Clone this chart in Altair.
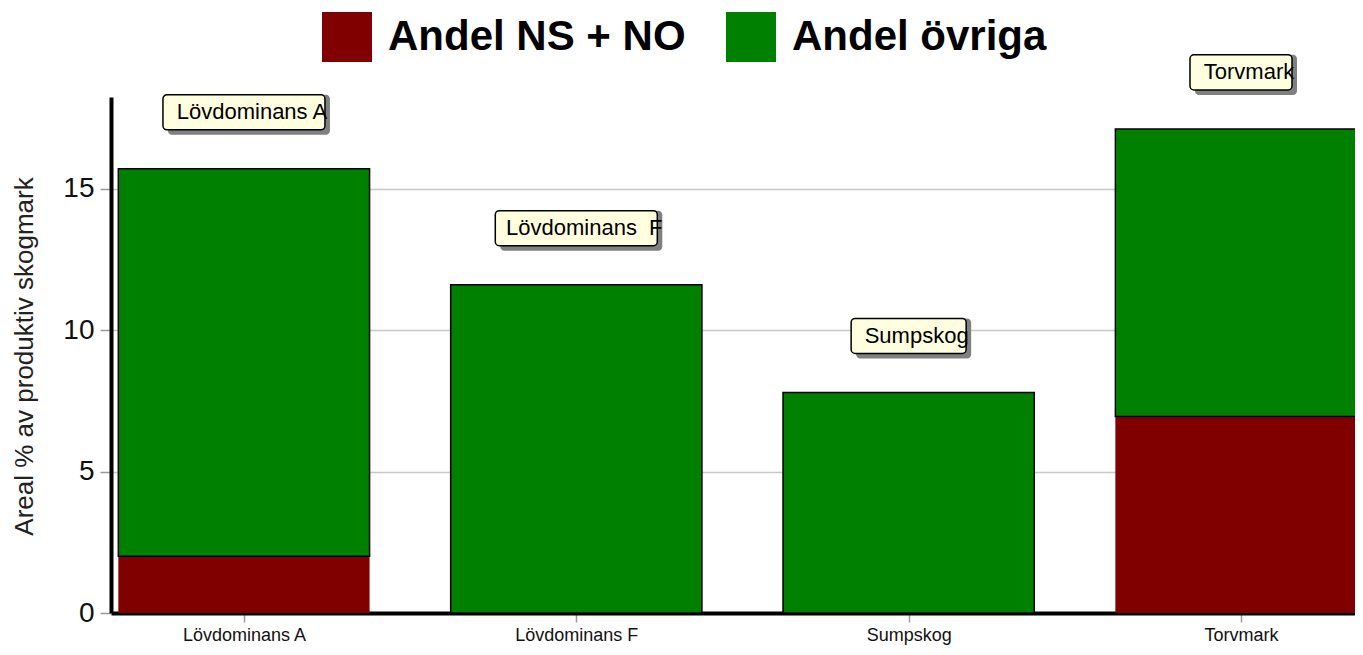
import altair as alt
import pandas as pd

# ---- data ----
categories = ["Lövdominans A", "Lövdominans F", "Sumpskog", "Torvmark"]
ns_no = [2.01, 0.0, 0.0, 6.95]          # Andel NS + NO
ovriga = [13.70, 11.61, 7.80, 10.17]    # Andel övriga
box_labels = ["Lövdominans A", "Lövdominans\u00a0 F", "Sumpskog", "Torvmark"]
series_names = ["Andel NS + NO", "Andel övriga"]
y_ticks = [0, 5, 10, 15]

# ---- styles ----
series_colors = ["#800000", "#008000"]
box_width_px = [162, 162, 115, 102]
SANS = "Liberation Sans, Arial, sans-serif"

PLOT_W, PLOT_H = 1244, 516
Y_MAX = 18.25

rows = []
for i, c in enumerate(categories):
    rows.append({"idx": i, "cat": c, "series": series_names[0], "lo": 0.0, "hi": ns_no[i]})
    rows.append({"idx": i, "cat": c, "series": series_names[1], "lo": ns_no[i],
                 "hi": ns_no[i] + ovriga[i]})
bars_df = pd.DataFrame(rows)

lab_df = pd.DataFrame({
    "idx": list(range(len(categories))),
    "label": box_labels,
    "total": [a + b for a, b in zip(ns_no, ovriga)],
    "bw": box_width_px,
})

xscale = alt.Scale(domain=[-0.385, 3.328], nice=False, zero=False)
yscale = alt.Scale(domain=[0, Y_MAX], nice=False)

cat_js = "[" + ",".join("'" + c + "'" for c in categories) + "]"

xaxis = alt.Axis(
    values=[0, 1, 2, 3], labelExpr=f"{cat_js}[datum.value]", title=None, grid=False,
    domainColor="black", domainWidth=4, tickColor="#999999", tickSize=9, tickWidth=1.5,
    labelFont=SANS, labelFontSize=18, labelColor="#111111", labelPadding=4,
    labelFlush=False, labelOverlap=False,
)
yaxis = alt.Axis(
    values=y_ticks, title="Areal % av produktiv skogmark", grid=True,
    gridColor="#c8c8c8", gridWidth=1.5, domainColor="black", domainWidth=4,
    tickColor="#999999", tickSize=11, tickWidth=1.5,
    labelFont=SANS, labelFontSize=28, labelColor="#111111", labelPadding=6,
    titleFont=SANS, titleFontSize=26, titleFontWeight="normal", titleColor="#222222",
    titleAngle=270, titleX=-87, titleY=259, titleAlign="center", titleBaseline="middle",
)
legend = alt.Legend(
    title=None, orient="none", direction="horizontal", legendX=211, legendY=-85,
    symbolType="square", symbolSize=2500, symbolStrokeWidth=0, symbolOpacity=1,
    labelFont=SANS, labelFontSize=42, labelFontWeight="bold", labelColor="black",
    labelOffset=16, columnPadding=40, padding=0, labelLimit=600,
)

HALF = 0.378
bars = alt.Chart(bars_df).transform_calculate(
    xl=f"datum.idx - {HALF}", xr=f"datum.idx + {HALF}"
).mark_bar(clip=True, stroke="black").encode(
    x=alt.X("xl:Q", scale=xscale, axis=xaxis),
    x2="xr:Q",
    y=alt.Y("lo:Q", scale=yscale, axis=yaxis),
    y2="hi:Q",
    color=alt.Color("series:N", scale=alt.Scale(domain=series_names, range=series_colors),
                    legend=legend),
    strokeWidth=alt.condition(alt.datum.series == series_names[1], alt.value(1.5), alt.value(0)),
)

box_base = alt.Chart(lab_df).transform_calculate(
    b0="datum.total + 2 - 0.62", b1="datum.total + 2 + 0.62", yc="datum.total + 2"
)
shadow = box_base.mark_bar(fill="#808080", xOffset=5, yOffset=5, cornerRadius=4).encode(
    x=alt.X("idx:Q", scale=xscale),
    y=alt.Y("b0:Q", scale=yscale),
    y2="b1:Q",
    size=alt.Size("bw:Q", scale=None, legend=None),
)
box = box_base.mark_bar(fill="#ffffe0", stroke="black", strokeWidth=1.5, cornerRadius=4).encode(
    x=alt.X("idx:Q", scale=xscale),
    y=alt.Y("b0:Q", scale=yscale),
    y2="b1:Q",
    size=alt.Size("bw:Q", scale=None, legend=None),
)
text = box_base.mark_text(font=SANS, fontSize=22, dx=8, align="center",
                          baseline="middle", color="black").encode(
    x=alt.X("idx:Q", scale=xscale),
    y=alt.Y("yc:Q", scale=yscale),
    text="label:N",
)

chart = alt.layer(bars, shadow, box, text).properties(
    width=PLOT_W, height=PLOT_H,
    autosize=alt.AutoSizeParams(type="none"),
    padding={"left": 103, "top": 89, "right": 0, "bottom": 32},
).configure_view(stroke=None)

chart.save("out.html", embed_options={"renderer": "svg", "actions": False})
